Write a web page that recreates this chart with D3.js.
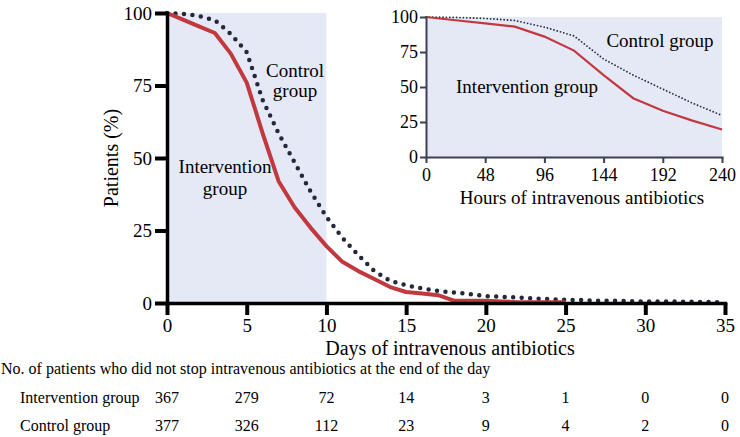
<!DOCTYPE html>
<html>
<head>
<meta charset="utf-8">
<script src="https://cdn.jsdelivr.net/npm/d3@7"></script>
<style>
  body { margin: 0; background: #fff; }
  svg { display: block; font-family: 'Liberation Serif', 'Times New Roman', serif; }
</style>
</head>
<body>
<svg id="chart" width="740" height="437"></svg>
<script>
// % of patients still on iv antibiotics, one value per day (index = day)
var interventionPct = [100, 97.7, 95.4, 93.1, 86, 76, 58.5, 42, 33, 26, 19.6,
  14.2, 11, 8.3, 5.5, 3.8, 3.3, 2.7, 0.8, 0.8, 0.8, 0.5, 0.3, 0.3, 0.3, 0.3]
var controlPct = [100, 99.7, 99, 97.5, 92.8, 86.5, 70, 58.5, 48.5, 38.5, 29.7,
  22.5, 16.5, 11, 7.6, 6.1, 5, 4.2, 3.6, 3.1, 2.4, 2.1, 1.9, 1.6, 1.3, 1.1,
  1, 0.8, 0.8, 0.6, 0.5, 0.5, 0.5, 0.4, 0.3, 0.3]

var dayTicks = [0, 5, 10, 15, 20, 25, 30, 35]
var pctTicks = [0, 25, 50, 75, 100]
var hourTicks = [0, 48, 96, 144, 192, 240]

// numbers at risk table
var tableDays = [0, 5, 10, 15, 20, 25, 30, 35]
var interventionN = [367, 279, 72, 14, 3, 1, 0, 0]
var controlN = [377, 326, 112, 23, 9, 4, 2, 0]

var red = '#c1393f', dark = '#23283a', shade = '#e5e9f6'

var svg = d3.select('#chart')

// ---- main plot
var x = d3.scaleLinear().domain([0, 35]).range([167, 725])
var y = d3.scaleLinear().domain([0, 100]).range([303, 13])

svg.append('rect')
  .attr('x', x(0)).attr('y', y(100))
  .attr('width', x(10) - x(0)).attr('height', y(0) - y(100))
  .attr('fill', shade)

var line = d3.line()
  .x(function(d, i) { return x(i) })
  .y(function(d) { return y(d) })

svg.append('path').datum(controlPct)
  .attr('d', line)
  .attr('fill', 'none').attr('stroke', dark)
  .attr('stroke-width', 4.5).attr('stroke-linecap', 'round')
  .attr('stroke-dasharray', '0,8.5')

svg.append('path').datum(interventionPct)
  .attr('d', line)
  .attr('fill', 'none').attr('stroke', red)
  .attr('stroke-width', 4).attr('stroke-linejoin', 'round')

var gx = svg.append('g').attr('transform', 'translate(0,' + y(0) + ')')
  .call(d3.axisBottom(x).tickValues(dayTicks).tickSize(12).tickSizeOuter(0).tickPadding(4))
var gy = svg.append('g').attr('transform', 'translate(' + x(0) + ',0)')
  .call(d3.axisLeft(y).tickValues(pctTicks).tickSize(12).tickSizeOuter(0).tickPadding(3))

;[gx, gy].forEach(function(g) {
  g.select('.domain').attr('stroke', '#000').attr('stroke-width', 3.5).attr('stroke-linecap', 'square')
  g.selectAll('.tick line').attr('stroke', '#000').attr('stroke-width', 4)
  g.selectAll('.tick text').attr('fill', '#000')
    .style('font-family', "'Liberation Serif', serif").style('font-size', '19px')
})
gx.selectAll('.tick text').attr('dy', '0.69em')

svg.append('text')
  .attr('transform', 'translate(118,158) rotate(-90)')
  .attr('text-anchor', 'middle').style('font-size', '20px')
  .text('Patients (%)')

svg.append('text')
  .attr('x', 450).attr('y', 355)
  .attr('text-anchor', 'middle').style('font-size', '20px')
  .text('Days of intravenous antibiotics')

svg.append('text').attr('x', 295).attr('y', 77)
  .attr('text-anchor', 'middle').style('font-size', '19px').text('Control')
svg.append('text').attr('x', 295).attr('y', 97)
  .attr('text-anchor', 'middle').style('font-size', '19px').text('group')
svg.append('text').attr('x', 225).attr('y', 173)
  .attr('text-anchor', 'middle').style('font-size', '19px').text('Intervention')
svg.append('text').attr('x', 225).attr('y', 195)
  .attr('text-anchor', 'middle').style('font-size', '19px').text('group')

// ---- inset (hours, first 10 days)
var xi = d3.scaleLinear().domain([0, 240]).range([426, 722])
var yi = d3.scaleLinear().domain([0, 100]).range([157, 17])

svg.append('rect')
  .attr('x', xi(0)).attr('y', yi(100))
  .attr('width', xi(240) - xi(0)).attr('height', yi(0) - yi(100))
  .attr('fill', shade)

var lineI = d3.line()
  .x(function(d, i) { return xi(i * 24) })
  .y(function(d) { return yi(d) })

svg.append('path').datum(controlPct.slice(0, 11))
  .attr('d', lineI)
  .attr('fill', 'none').attr('stroke', dark)
  .attr('stroke-width', 1.8).attr('stroke-linecap', 'round')
  .attr('stroke-dasharray', '0,3.4')

svg.append('path').datum(interventionPct.slice(0, 11))
  .attr('d', lineI)
  .attr('fill', 'none').attr('stroke', red)
  .attr('stroke-width', 2.2)

var gxi = svg.append('g').attr('transform', 'translate(0,' + yi(0) + ')')
  .call(d3.axisBottom(xi).tickValues(hourTicks).tickSize(6).tickSizeOuter(0).tickPadding(4))
var gyi = svg.append('g').attr('transform', 'translate(' + xi(0) + ',0)')
  .call(d3.axisLeft(yi).tickValues(pctTicks).tickSize(6).tickSizeOuter(0).tickPadding(2))

;[gxi, gyi].forEach(function(g) {
  g.select('.domain').attr('stroke', '#3b4152').attr('stroke-width', 2).attr('stroke-linecap', 'square')
  g.selectAll('.tick line').attr('stroke', '#3b4152').attr('stroke-width', 2)
  g.selectAll('.tick text').attr('fill', '#000')
    .style('font-family', "'Liberation Serif', serif").style('font-size', '18px')
})
gxi.selectAll('.tick text').attr('dy', '0.78em')

svg.append('text')
  .attr('x', 582).attr('y', 204)
  .attr('text-anchor', 'middle').style('font-size', '19px')
  .text('Hours of intravenous antibiotics')

svg.append('text').attr('x', 660).attr('y', 47)
  .attr('text-anchor', 'middle').style('font-size', '19px').text('Control group')
svg.append('text').attr('x', 527).attr('y', 93)
  .attr('text-anchor', 'middle').style('font-size', '19px').text('Intervention group')

// ---- numbers at risk
svg.append('text')
  .attr('x', 1).attr('y', 374)
  .style('font-size', '16px')
  .text('No. of patients who did not stop intravenous antibiotics at the end of the day')

var rows = [
  { label: 'Intervention group', values: interventionN, y: 403 },
  { label: 'Control group', values: controlN, y: 431 }
]

rows.forEach(function(r) {
  svg.append('text').attr('x', 20).attr('y', r.y)
    .style('font-size', '16px').text(r.label)
  svg.selectAll(null)
    .data(r.values)
    .enter().append('text')
    .attr('x', function(d, i) { return x(tableDays[i]) })
    .attr('y', r.y)
    .attr('text-anchor', 'middle')
    .style('font-size', '16px')
    .text(function(d) { return d })
})
</script>
</body>
</html>
